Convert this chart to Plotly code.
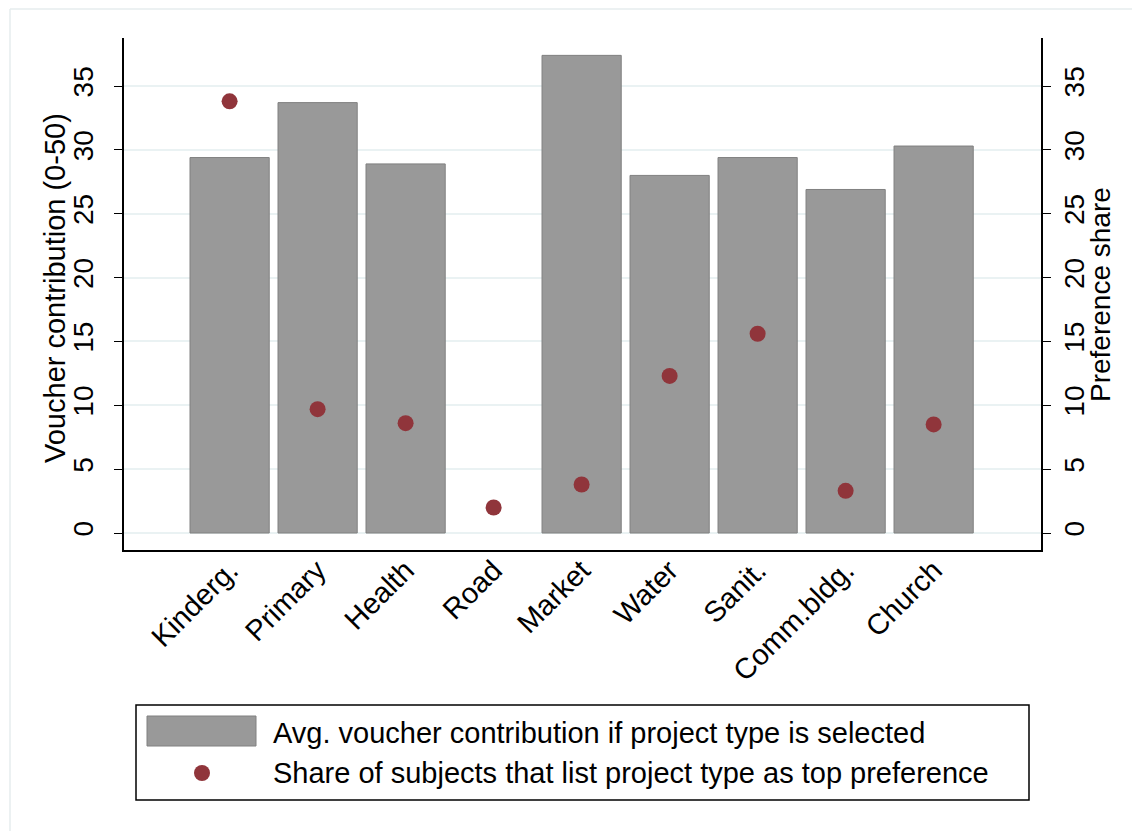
import plotly.graph_objects as go

categories = ["Kinderg.", "Primary", "Health", "Road", "Market", "Water", "Sanit.", "Comm.bldg.", "Church"]
avg_contribution = [29.4, 33.7, 28.9, None, 37.4, 28.0, 29.4, 26.9, 30.3]
pref_share = [33.8, 9.7, 8.6, 2.0, 3.8, 12.3, 15.6, 3.3, 8.5]
y_ticks = [0, 5, 10, 15, 20, 25, 30, 35]

bar_color = "#999999"
dot_color = "#90353B"
grid_color = "#eaf2f3"
font_family = "Liberation Sans, Arial, sans-serif"

x_idx = list(range(len(categories)))

fig = go.Figure()
fig.add_trace(go.Bar(
    x=x_idx, y=avg_contribution, width=0.9,
    marker=dict(color=bar_color, line=dict(color="#808080", width=1)),
    name="Avg. voucher contribution if project type is selected",
    showlegend=False,
))
fig.add_trace(go.Scatter(
    x=x_idx, y=pref_share, mode="markers", yaxis="y2",
    marker=dict(color=dot_color, size=16),
    name="Share of subjects that list project type as top preference",
    showlegend=False,
))

yr = [-1.33, 38.76]
fig.update_layout(
    width=1140, height=831,
    margin=dict(l=116, r=107, t=30, b=289),
    paper_bgcolor="white", plot_bgcolor="white",
    font=dict(family=font_family, color="black", size=28),
    xaxis=dict(
        range=[-1.2, 9.22], tickmode="array", tickvals=x_idx, ticktext=categories,
        tickangle=-45, ticks="", showgrid=False, zeroline=False,
        showline=True, linecolor="black", linewidth=1.5,
        tickfont=dict(size=29), ticklabelstandoff=-10,
    ),
    yaxis=dict(
        range=yr, tickmode="array", tickvals=y_ticks, tickangle=-90,
        ticks="outside", ticklen=8, tickwidth=1.2, tickcolor="black",
        showgrid=True, gridcolor=grid_color, gridwidth=2,
        zeroline=False, showline=True, linecolor="black", linewidth=1.5,
        ticklabelstandoff=10, tickfont=dict(size=28),
    ),
    yaxis2=dict(
        range=yr, tickmode="array", tickvals=y_ticks, tickangle=-90,
        overlaying="y", side="right",
        ticks="outside", ticklen=8, tickwidth=1.2, tickcolor="black",
        showgrid=False, zeroline=False, showline=True, linecolor="black", linewidth=1.5,
        ticklabelstandoff=0, tickfont=dict(size=28),
    ),
    bargap=0.1,
)

W, H = 917.0, 512.0
def px(x):
    return (x - 124) / W
def py(y):
    return (550 - y) / H

shapes = []
# faint outer frame
shapes.append(dict(type="line", xref="paper", yref="paper", x0=px(10), x1=px(1150), y0=py(9), y1=py(9),
                   line=dict(color="#e6ecee", width=1.5)))
shapes.append(dict(type="line", xref="paper", yref="paper", x0=px(10), x1=px(10), y0=py(9), y1=py(845),
                   line=dict(color="#e6ecee", width=1.5)))
# legend box
shapes.append(dict(type="rect", xref="paper", yref="paper", x0=px(136), x1=px(1029), y0=py(800), y1=py(705),
                   line=dict(color="black", width=1.5), fillcolor="white"))
shapes.append(dict(type="rect", xref="paper", yref="paper", x0=px(147), x1=px(256), y0=py(746), y1=py(716),
                   line=dict(color="#808080", width=1), fillcolor=bar_color))
shapes.append(dict(type="circle", xref="paper", yref="paper", x0=px(194), x1=px(210), y0=py(781), y1=py(765),
                   line=dict(color=dot_color, width=0), fillcolor=dot_color))
fig.update_layout(shapes=shapes)

# axis titles
fig.add_annotation(xref="paper", yref="paper", x=px(55), y=py(288), xanchor="center", yanchor="middle",
                   text="Voucher contribution (0-50)", textangle=-90, showarrow=False, font=dict(size=29))
fig.add_annotation(xref="paper", yref="paper", x=px(1100), y=py(295), xanchor="center", yanchor="middle",
                   text="Preference share", textangle=-90, showarrow=False, font=dict(size=28))

# legend texts
fig.add_annotation(xref="paper", yref="paper", x=px(271), y=py(733), xanchor="left", yanchor="middle",
                   text="Avg. voucher contribution if project type is selected", showarrow=False,
                   font=dict(size=29))
fig.add_annotation(xref="paper", yref="paper", x=px(271), y=py(773), xanchor="left", yanchor="middle",
                   text="Share of subjects that list project type as top preference", showarrow=False,
                   font=dict(size=29))

fig.write_html("out.html")
